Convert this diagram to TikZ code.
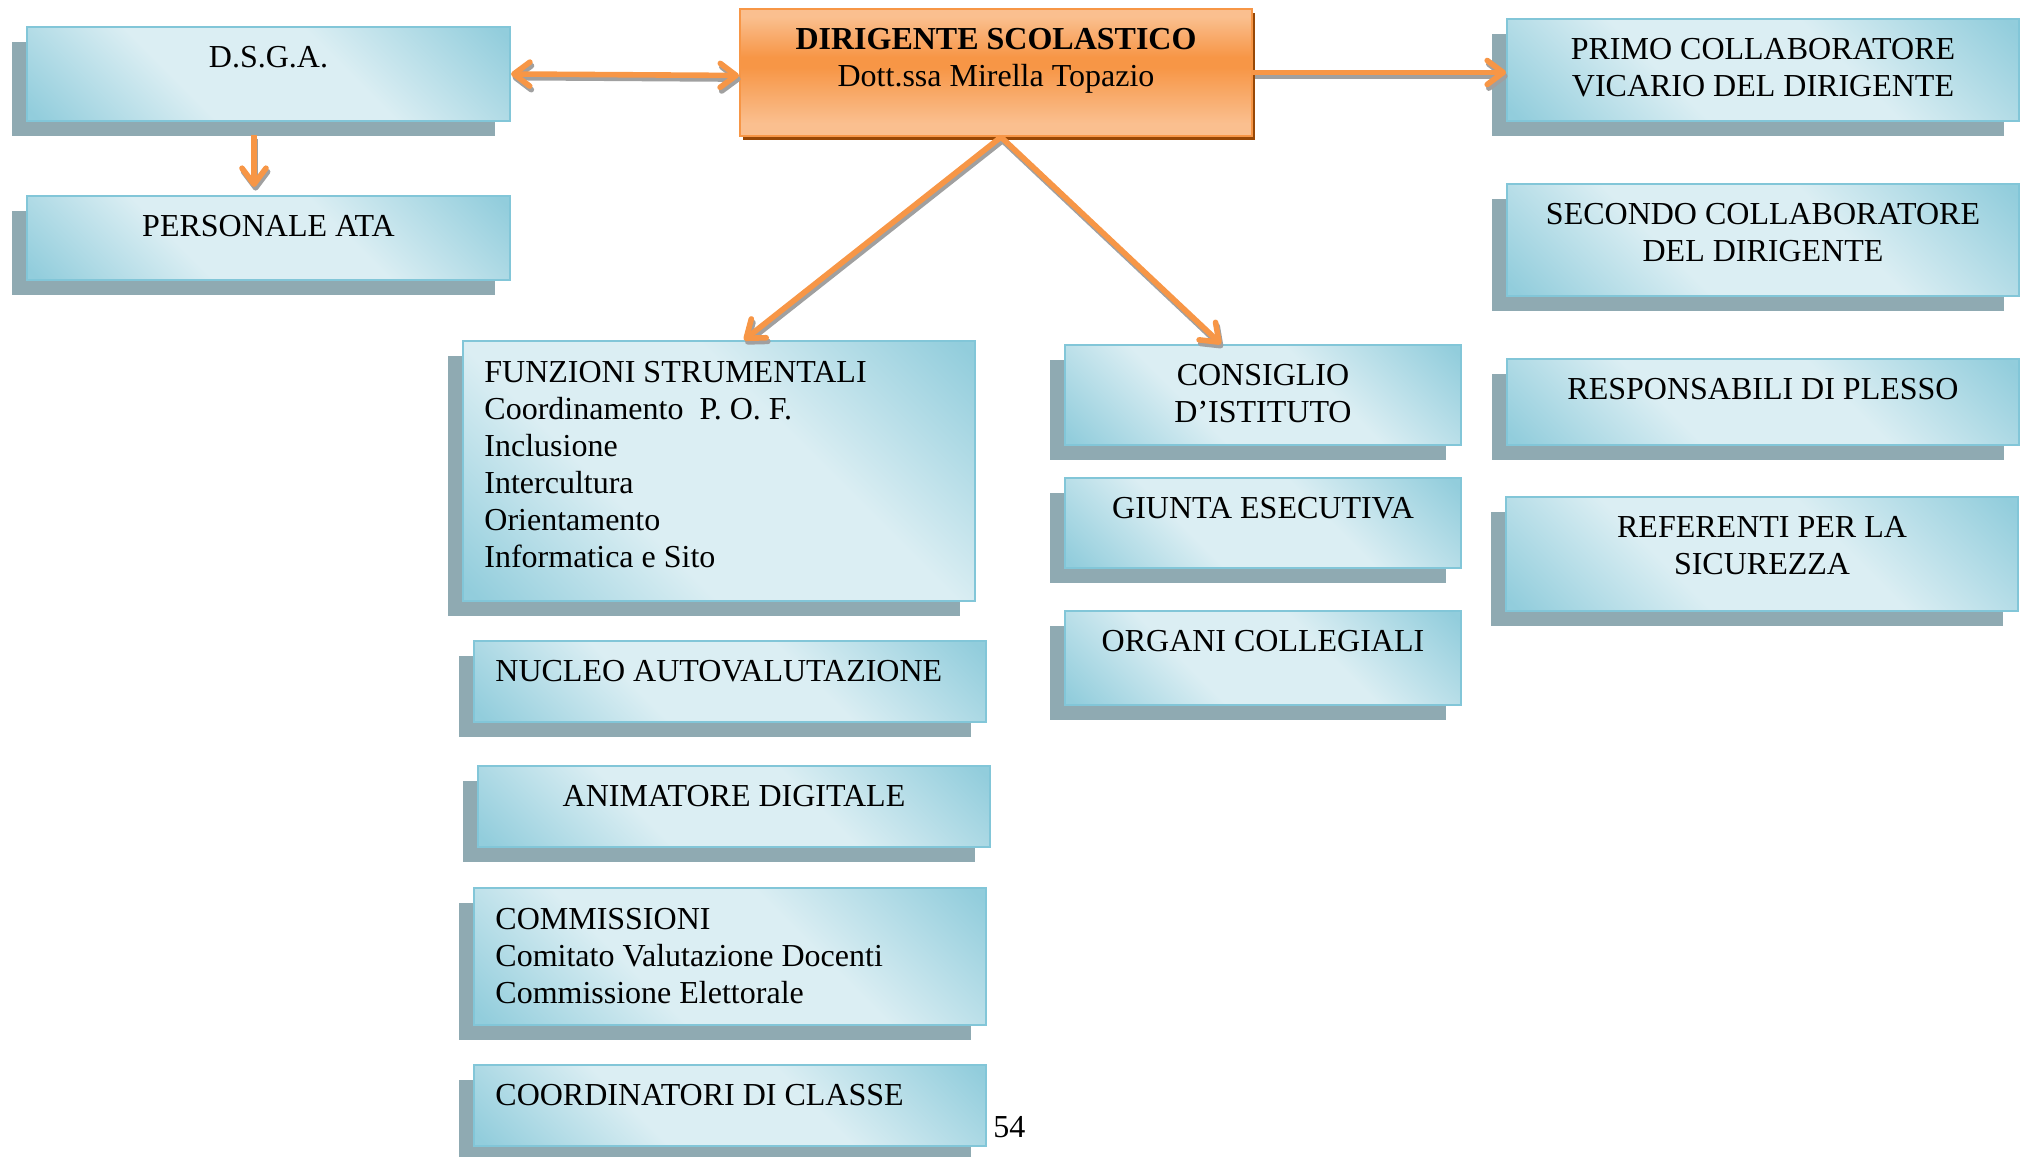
\documentclass[tikz,border=0pt]{standalone}
\usepackage{fontspec}
\setmainfont{Liberation Serif}
\usetikzlibrary{positioning,arrows.meta,shadows}

\definecolor{boxdark}{RGB}{146,205,220}
\definecolor{boxlight}{RGB}{219,238,243}
\definecolor{boxline}{RGB}{130,198,216}
\definecolor{boxshadow}{RGB}{143,170,178}
\definecolor{orlight}{RGB}{250,191,143}
\definecolor{ordark}{RGB}{247,150,70}
\definecolor{orshadow}{RGB}{152,72,6}
\definecolor{arrgray}{RGB}{160,160,160}

\pgfdeclarehorizontalshading{boxshade}{100bp}{color(0bp)=(boxdark); color(16bp)=(boxdark); color(38bp)=(boxlight); color(60bp)=(boxlight); color(84bp)=(boxdark); color(100bp)=(boxdark)}
\pgfdeclareverticalshading{dsshade}{100bp}{color(0bp)=(orlight); color(30bp)=(orlight); color(52bp)=(ordark); color(56bp)=(ordark); color(72bp)=(orlight); color(100bp)=(orlight)}

\tikzset{
  bluebox/.style={draw=boxline, line width=1pt, shading=boxshade, shading angle=45,
    anchor=north west, inner sep=0pt,
    drop shadow={shadow xshift=-7.5pt, shadow yshift=-7.5pt, fill=boxshadow, opacity=1}},
  dsbox/.style={draw=ordark, line width=1pt, shading=dsshade,
    anchor=north west, inner sep=0pt,
    drop shadow={shadow xshift=1.5pt, shadow yshift=-2pt, fill=orshadow, opacity=1}},
  boxtext/.style={inner sep=0pt, align=center, font=\fontsize{16}{18.5}\selectfont},
  barb/.tip={Straight Barb[length=8pt,width=12pt,round]},
  arr/.style={draw=ordark, line width=2.8pt, -barb},
  arrshade/.style={arr, draw=arrgray, transform canvas={shift={(0.8pt,-1.8pt)}}}
}

\begin{document}
\begin{tikzpicture}[x=0.5pt, y=-0.5pt]
  \useasboundingbox (0,0) rectangle (2022,1156);

  % left column
  \node[bluebox, minimum width=241.5pt, minimum height=47pt] (dsga) at (26,26) {};
  \node[boxtext, below=7.5pt of dsga.north] (dsgat) {\strut D.S.G.A.};
  \node[bluebox, minimum width=241.5pt, minimum height=42pt] (ata) at (26,195) {};
  \node[boxtext, below=7.5pt of ata.north] (atat) {\strut PERSONALE ATA};

  % head
  \node[dsbox, minimum width=256pt, minimum height=63.5pt] (ds) at (739,8) {};
  \node[boxtext, below=7.5pt of ds.north] (dst) {\strut\textbf{DIRIGENTE SCOLASTICO}\\Dott.ssa Mirella Topazio};

  % right column
  \node[bluebox, minimum width=256pt, minimum height=51pt] (primo) at (1506,18) {};
  \node[boxtext, below=7.5pt of primo.north] (primot) {\strut PRIMO COLLABORATORE\\VICARIO DEL DIRIGENTE};
  \node[bluebox, minimum width=256pt, minimum height=56pt] (secondo) at (1506,183) {};
  \node[boxtext, below=7.5pt of secondo.north] (secondot) {\strut SECONDO COLLABORATORE\\DEL DIRIGENTE};
  \node[bluebox, minimum width=256pt, minimum height=43pt] (resp) at (1506,358) {};
  \node[boxtext, below=7.5pt of resp.north] (respt) {\strut RESPONSABILI DI PLESSO};
  \node[bluebox, minimum width=256pt, minimum height=57pt] (ref) at (1505,496) {};
  \node[boxtext, below=7.5pt of ref.north] (reft) {\strut REFERENTI PER LA\\SICUREZZA};

  % middle column
  \node[bluebox, minimum width=256pt, minimum height=130pt] (funz) at (462,340) {};
  \node[boxtext, align=left, below right=8pt and 11pt of funz.north west] (funzt)
    {\strut FUNZIONI STRUMENTALI\\Coordinamento\ \ P. O. F.\\Inclusione\\Intercultura\\Orientamento\\Informatica e Sito};
  \node[bluebox, minimum width=256pt, minimum height=40.5pt] (nucleo) at (473,640) {};
  \node[boxtext, align=left, below right=7.5pt and 11pt of nucleo.north west] (nucleot) {\strut NUCLEO AUTOVALUTAZIONE};
  \node[bluebox, minimum width=256pt, minimum height=40.5pt] (anim) at (477,765) {};
  \node[boxtext, below=7.5pt of anim.north] (animt) {\strut ANIMATORE DIGITALE};
  \node[bluebox, minimum width=256pt, minimum height=68.5pt] (comm) at (473,887) {};
  \node[boxtext, align=left, below right=8pt and 11pt of comm.north west] (commt)
    {\strut COMMISSIONI\\Comitato Valutazione Docenti\\Commissione Elettorale};
  \node[bluebox, minimum width=256pt, minimum height=40.5pt] (coord) at (473,1064) {};
  \node[boxtext, align=left, below right=7.5pt and 11pt of coord.north west] (coordt) {\strut COORDINATORI DI CLASSE};

  % organi
  \node[bluebox, minimum width=198pt, minimum height=50pt] (cons) at (1064,344) {};
  \node[boxtext, below=7.5pt of cons.north] (const) {\strut CONSIGLIO\\D’ISTITUTO};
  \node[bluebox, minimum width=198pt, minimum height=45pt] (giunta) at (1064,477) {};
  \node[boxtext, below=7.5pt of giunta.north] (giuntat) {\strut GIUNTA ESECUTIVA};
  \node[bluebox, minimum width=198pt, minimum height=47pt] (organi) at (1064,610) {};
  \node[boxtext, below=7.5pt of organi.north] (organit) {\strut ORGANI COLLEGIALI};

  \node[boxtext, anchor=base west] (pagenum) at (993,1137) {54};

  % arrows, grey shade first
  \foreach \s in {arrshade, arr} {
    \draw[\s, barb-barb] (dsga.east) -- ([yshift=-1.5pt]ds.west);
    \draw[\s] (ds.east) -- (ds.east -| primo.west);
    \draw[\s] ([shift={(-7.25pt,-6.5pt)}]dsga.south) -- ([shift={(-7.25pt,4pt)}]ata.north);
    \draw[\s] ([xshift=2.5pt]ds.south) -- ([xshift=12.5pt]funz.north);
    \draw[\s] ([xshift=2.5pt]ds.south) -- ([xshift=-21pt]cons.north);
  }
\end{tikzpicture}
\end{document}
